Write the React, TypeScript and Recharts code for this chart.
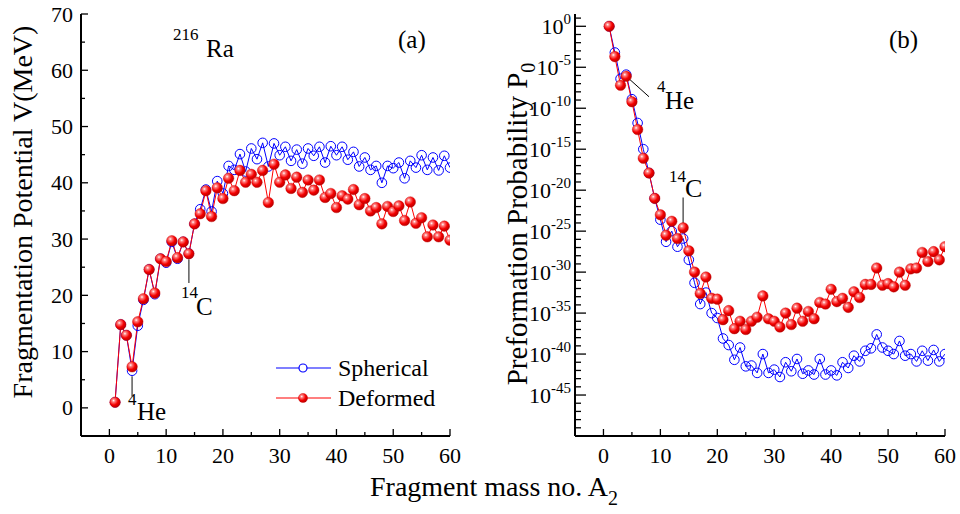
import React from 'react';
import { LineChart, Line, XAxis, YAxis, Legend, ReferenceLine } from 'recharts';

// fragment mass numbers A2
const massNo = [
  1, 2, 3, 4, 5, 6, 7, 8, 9, 10, 11, 12, 13, 14, 15, 16, 17, 18, 19, 20,
  21, 22, 23, 24, 25, 26, 27, 28, 29, 30, 31, 32, 33, 34, 35, 36, 37, 38, 39, 40,
  41, 42, 43, 44, 45, 46, 47, 48, 49, 50, 51, 52, 53, 54, 55, 56, 57, 58, 59, 60,
];

// (a) fragmentation potential V (MeV)
const sphericalV = [
  1.0, 14.8, 12.9, 6.6, 14.6, 19.2, 24.6, 20.2, 26.5, 25.8,
  29.5, 26.5, 29.5, 27.4, 32.7, 35.3, 38.8, 34.9, 40.3, 38.1,
  43.0, 42.3, 45.1, 42.0, 46.1, 44.2, 47.1, 42.9, 47.0, 44.9,
  46.4, 43.9, 45.9, 43.4, 46.1, 44.8, 46.4, 43.6, 46.5, 44.9,
  46.4, 44.1, 45.5, 42.9, 44.5, 42.3, 43.0, 40.0, 43.0, 42.6,
  43.6, 40.8, 43.9, 42.7, 44.9, 42.3, 44.5, 42.2, 44.8, 42.7,
];
const deformedV = [
  1.0, 14.8, 12.9, 7.3, 15.3, 19.4, 24.6, 20.4, 26.5, 26.0,
  29.7, 26.7, 29.5, 27.4, 32.7, 34.5, 38.6, 34.0, 39.1, 37.2,
  40.8, 38.6, 42.2, 40.1, 41.5, 40.1, 42.2, 36.5, 43.3, 40.1,
  41.4, 39.0, 41.0, 38.3, 40.5, 38.7, 40.5, 37.4, 38.1, 35.6,
  37.7, 37.1, 38.8, 36.1, 37.2, 35.0, 35.6, 32.7, 35.8, 34.9,
  35.9, 33.3, 36.6, 32.8, 33.8, 30.4, 32.5, 30.4, 32.3, 29.8,
];

// (b) preformation probability, as log10(P0)
const sphericalLogP0 = [
  0, -3.2, -6.4, -5.9, -8.9, -11.8, -15.0, -17.9, -21.0, -23.6,
  -26.3, -25.0, -26.9, -25.9, -28.5, -31.3, -33.9, -32.5, -35.0, -35.6,
  -38.1, -38.9, -40.7, -39.2, -41.5, -41.4, -42.3, -40.0, -42.3, -41.9,
  -42.8, -41.0, -42.1, -40.6, -42.4, -42.0, -42.5, -40.6, -42.5, -42.0,
  -42.6, -41.0, -41.7, -40.2, -40.9, -39.6, -39.3, -37.6, -39.2, -39.6,
  -40.0, -38.4, -40.2, -40.0, -40.9, -39.6, -40.8, -39.5, -40.9, -40.0,
];
const deformedLogP0 = [
  0, -3.7, -7.2, -6.1, -9.2, -12.6, -16.1, -17.9, -21.0, -23.0,
  -25.5, -23.8, -25.9, -24.6, -27.4, -30.0, -32.6, -30.6, -33.2, -33.3,
  -35.8, -34.7, -36.9, -36.0, -37.0, -36.0, -35.5, -32.9, -35.7, -36.0,
  -36.7, -35.0, -36.4, -34.4, -36.0, -34.8, -35.7, -33.7, -33.9, -32.1,
  -33.6, -33.2, -34.3, -32.4, -33.1, -31.5, -31.5, -29.5, -31.6, -31.4,
  -31.8, -30.0, -31.6, -29.6, -29.5, -27.6, -28.7, -27.5, -28.5, -26.9,
];

const massTicks = [0, 5, 10, 15, 20, 25, 30, 35, 40, 45, 50, 55, 60];
const potentialTicks = [0, 5, 10, 15, 20, 25, 30, 35, 40, 45, 50, 55, 60, 65, 70];
const decadeTicks = [
  1e1, 1e0, 1e-1, 1e-2, 1e-3, 1e-4, 1e-5, 1e-6, 1e-7, 1e-8, 1e-9, 1e-10,
  1e-11, 1e-12, 1e-13, 1e-14, 1e-15, 1e-16, 1e-17, 1e-18, 1e-19, 1e-20,
  1e-21, 1e-22, 1e-23, 1e-24, 1e-25, 1e-26, 1e-27, 1e-28, 1e-29, 1e-30,
  1e-31, 1e-32, 1e-33, 1e-34, 1e-35, 1e-36, 1e-37, 1e-38, 1e-39, 1e-40,
  1e-41, 1e-42, 1e-43, 1e-44, 1e-45, 1e-46, 1e-47, 1e-48, 1e-49, 1e-50,
];

const potentialData = massNo.map((a, i) => ({ A: a, sph: sphericalV[i], def: deformedV[i] }));
const probData = massNo.map((a, i) => ({
  A: a,
  sph: Math.pow(10, sphericalLogP0[i]),
  def: Math.pow(10, deformedLogP0[i]),
}));

const FONT = '"Liberation Serif", "Times New Roman", serif';
const TICK_W = 1.3;

// ticks are drawn inward; tickSize/tickMargin are 0 so x,y sit on the axis line
const BottomTick = (p: any) => {
  const v = p.payload.value;
  const major = v % 10 === 0;
  return (
    <g>
      <line x1={p.x} x2={p.x} y1={p.y} y2={p.y - (major ? 7 : 4)} stroke="#000" strokeWidth={TICK_W} />
      {major && (
        <text x={p.x} y={p.y + 27} textAnchor="middle" fontSize={22} fontFamily={FONT} fill="#000">
          {v}
        </text>
      )}
    </g>
  );
};

const TopTick = (p: any) => {
  const major = p.payload.value % 10 === 0;
  return <line x1={p.x} x2={p.x} y1={p.y} y2={p.y + (major ? 7 : 4)} stroke="#000" strokeWidth={TICK_W} />;
};

const LeftTick = (p: any) => {
  const v = p.payload.value;
  const major = v % 10 === 0;
  return (
    <g>
      <line x1={p.x} x2={p.x + (major ? 7 : 4)} y1={p.y} y2={p.y} stroke="#000" strokeWidth={TICK_W} />
      {major && (
        <text x={p.x - 8} y={p.y + 7.5} textAnchor="end" fontSize={22} fontFamily={FONT} fill="#000">
          {v}
        </text>
      )}
    </g>
  );
};

const RightTick = (p: any) => {
  const major = p.payload.value % 10 === 0;
  return <line x1={p.x} x2={p.x - (major ? 7 : 4)} y1={p.y} y2={p.y} stroke="#000" strokeWidth={TICK_W} />;
};

const LogLeftTick = (p: any) => {
  const e = Math.round(Math.log10(p.payload.value));
  const major = e % 5 === 0;
  return (
    <g>
      <line x1={p.x} x2={p.x + (major ? 11 : 6)} y1={p.y} y2={p.y} stroke="#000" strokeWidth={TICK_W} />
      {major && e <= 0 && e >= -45 && (
        <text x={p.x - 4} y={p.y + 7.5} textAnchor="end" fontSize={22} fontFamily={FONT} fill="#000">
          <tspan>10</tspan>
          <tspan dy={-10} fontSize={15}>{`${e}`}</tspan>
        </text>
      )}
    </g>
  );
};

const LogRightTick = (p: any) => {
  const e = Math.round(Math.log10(p.payload.value));
  const major = e % 5 === 0;
  return <line x1={p.x} x2={p.x - (major ? 11 : 6)} y1={p.y} y2={p.y} stroke="#000" strokeWidth={TICK_W} />;
};

const redDot = (p: any) => (
  <circle key={`rd-${p.index}`} cx={p.cx} cy={p.cy} r={5.3} fill="url(#redBall)" stroke="#c80000" strokeWidth={0.4} />
);
const blueDot = { r: 4.8, stroke: '#0000ff', strokeWidth: 1, fill: 'none' };

function LegendBox() {
  const row = (label: string, color: string, filled: boolean) => (
    <div style={{ display: 'flex', alignItems: 'center', height: 30 }}>
      <svg width={62} height={30}>
        <line x1={0} x2={55} y1={15} y2={15} stroke={color} strokeWidth={1.2} />
        {filled ? (
          <circle cx={27} cy={15} r={4.6} fill="url(#redBall)" stroke="#c80000" strokeWidth={0.4} />
        ) : (
          <circle cx={27} cy={15} r={4} fill="#fff" stroke={color} strokeWidth={1.2} />
        )}
      </svg>
      <span style={{ fontFamily: FONT, fontSize: 24, color: '#000' }}>{label}</span>
    </div>
  );
  return (
    <div>
      {row('Spherical', '#0000ff', false)}
      {row('Deformed', '#ff0000', true)}
    </div>
  );
}

const frame = { stroke: '#000', strokeWidth: 2 };

export default function App() {
  return (
    <div style={{ position: 'absolute', left: 0, top: 0, width: 960, height: 514, background: '#fff', overflow: 'hidden' }}>
      <svg width={0} height={0} style={{ position: 'absolute' }}>
        <defs>
          <radialGradient id="redBall" cx="0.36" cy="0.34" r="0.7">
            <stop offset="0" stopColor="#ffffff" />
            <stop offset="0.2" stopColor="#ff8080" />
            <stop offset="0.6" stopColor="#f40000" />
            <stop offset="1" stopColor="#b40000" />
          </radialGradient>
        </defs>
      </svg>

      {/* (a) fragmentation potential */}
      <div style={{ position: 'absolute', left: 0, top: 0 }}>
        <LineChart width={470} height={514} data={potentialData} margin={{ top: 14, right: 20, bottom: 0, left: 0 }}>
          <XAxis xAxisId="b" dataKey="A" type="number" domain={[-5, 60]} allowDataOverflow ticks={massTicks} interval={0}
            tickSize={0} tickMargin={0} tickLine={false} height={78} axisLine={frame} tick={BottomTick} />
          <XAxis xAxisId="t" orientation="top" type="number" domain={[-5, 60]} allowDataOverflow ticks={massTicks} interval={0}
            tickSize={0} tickMargin={0} tickLine={false} height={0} axisLine={frame} tick={TopTick} />
          <YAxis yAxisId="l" type="number" domain={[-5, 70]} allowDataOverflow ticks={potentialTicks} interval={0}
            tickSize={0} tickMargin={0} tickLine={false} width={81} axisLine={frame} tick={LeftTick} />
          <YAxis yAxisId="r" orientation="right" type="number" domain={[-5, 70]} allowDataOverflow ticks={potentialTicks} interval={0}
            tickSize={0} tickMargin={0} tickLine={false} width={0} axisLine={frame} tick={RightTick} />
          <ReferenceLine xAxisId="b" yAxisId="l" segment={[{ x: 4, y: 5.6 }, { x: 4, y: 2.0 }]} stroke="#666" strokeWidth={1.6} />
          <ReferenceLine xAxisId="b" yAxisId="l" segment={[{ x: 14, y: 26.4 }, { x: 14, y: 22.2 }]} stroke="#666" strokeWidth={1.6} />
          <Line xAxisId="b" yAxisId="l" dataKey="sph" type="linear" stroke="#0000ff" strokeWidth={1}
            dot={blueDot} activeDot={false} isAnimationActive={false} />
          <Line xAxisId="b" yAxisId="l" dataKey="def" type="linear" stroke="#ff0000" strokeWidth={1}
            dot={redDot} activeDot={false} isAnimationActive={false} />
          <Legend layout="vertical" align="center" verticalAlign="middle" content={() => <LegendBox />}
            wrapperStyle={{ left: 276, top: 353, width: 180, height: 60 }} />
        </LineChart>
      </div>

      {/* (b) preformation probability */}
      <div style={{ position: 'absolute', left: 490, top: 0 }}>
        <LineChart width={470} height={514} data={probData} margin={{ top: 14, right: 15, bottom: 0, left: 0 }}>
          <XAxis xAxisId="b" dataKey="A" type="number" domain={[-5, 60]} allowDataOverflow ticks={massTicks} interval={0}
            tickSize={0} tickMargin={0} tickLine={false} height={78} axisLine={frame} tick={BottomTick} />
          <XAxis xAxisId="t" orientation="top" type="number" domain={[-5, 60]} allowDataOverflow ticks={massTicks} interval={0}
            tickSize={0} tickMargin={0} tickLine={false} height={0} axisLine={frame} tick={TopTick} />
          <YAxis yAxisId="l" type="number" scale="log" domain={[1e-50, 31.62]} allowDataOverflow ticks={decadeTicks} interval={0}
            tickSize={0} tickMargin={0} tickLine={false} width={85} axisLine={frame} tick={LogLeftTick} />
          <YAxis yAxisId="r" orientation="right" type="number" scale="log" domain={[1e-50, 31.62]} allowDataOverflow ticks={decadeTicks} interval={0}
            tickSize={0} tickMargin={0} tickLine={false} width={0} axisLine={frame} tick={LogRightTick} />
          <ReferenceLine xAxisId="b" yAxisId="l" segment={[{ x: 4, y: Math.pow(10, -6.1) }, { x: 8, y: Math.pow(10, -8.6) }]} stroke="#000" strokeWidth={1} />
          <ReferenceLine xAxisId="b" yAxisId="l" segment={[{ x: 14, y: Math.pow(10, -20.9) }, { x: 14, y: Math.pow(10, -24.2) }]} stroke="#666" strokeWidth={1.6} />
          <Line xAxisId="b" yAxisId="l" dataKey="sph" type="linear" stroke="#0000ff" strokeWidth={1}
            dot={blueDot} activeDot={false} isAnimationActive={false} />
          <Line xAxisId="b" yAxisId="l" dataKey="def" type="linear" stroke="#ff0000" strokeWidth={1}
            dot={redDot} activeDot={false} isAnimationActive={false} />
        </LineChart>
      </div>

      {/* titles and annotations */}
      <svg width={960} height={514} style={{ position: 'absolute', left: 0, top: 0, pointerEvents: 'none' }} fontFamily={FONT} fill="#000">
        <text x={173} y={40} fontSize={17}>216</text>
        <text x={206} y={57} fontSize={25}>Ra</text>
        <text x={398} y={48} fontSize={25}>(a)</text>
        <text x={889} y={48} fontSize={25}>(b)</text>

        <text x={128} y={405} fontSize={17}>4</text>
        <text x={137} y={420} fontSize={25}>He</text>
        <text x={181} y={298} fontSize={17}>14</text>
        <text x={196} y={315} fontSize={25}>C</text>

        <text x={657} y={92} fontSize={17}>4</text>
        <text x={665} y={109} fontSize={25}>He</text>
        <text x={669} y={182} fontSize={17}>14</text>
        <text x={685} y={197} fontSize={26}>C</text>

        <text transform="translate(32, 212) rotate(-90)" textAnchor="middle" fontSize={28}>
          Fragmentation Potential V(MeV)
        </text>
        <text transform="translate(527, 224) rotate(-90)" textAnchor="middle" fontSize={29}>
          <tspan>Preformation Probability P</tspan>
          <tspan dy={8} fontSize={20}>0</tspan>
        </text>
        <text x={370} y={496} fontSize={28}>
          <tspan>Fragment mass no. A</tspan>
          <tspan dy={9} fontSize={20}>2</tspan>
        </text>
      </svg>
    </div>
  );
}
